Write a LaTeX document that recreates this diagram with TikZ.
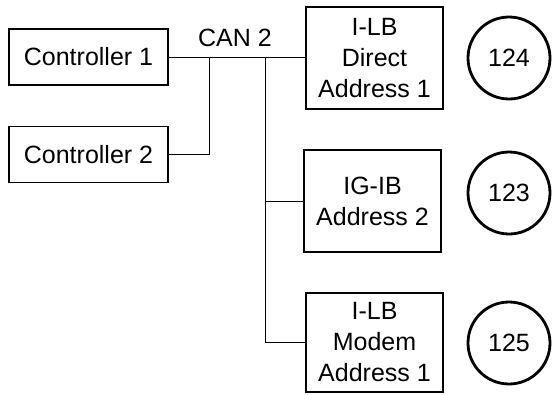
\documentclass[tikz,border=0pt]{standalone}
\usepackage{fontspec}
\setmainfont{Liberation Sans}
\usepackage{tikz}
\usetikzlibrary{positioning,calc}

\begin{document}
\begin{tikzpicture}[
  x=1pt, y=-1pt,
  box/.style={draw, line width=1.2pt, align=center, inner sep=2pt,
    font=\fontsize{25}{31}\selectfont},
  ctrl/.style={box, minimum width=159pt, minimum height=56pt},
  dev/.style={box, minimum width=137pt, minimum height=102pt},
  addr/.style={draw, circle, line width=2.8pt, minimum size=82pt, inner sep=0pt,
    font=\fontsize{25}{28}\selectfont},
  bus/.style={line width=1pt},
  lbl/.style={font=\fontsize{25}{28}\selectfont, inner sep=0pt}
]
\useasboundingbox (0,0) rectangle (552,394);
\node[ctrl] (ctrlA) at (88.5,57) {Controller 1};
\node[ctrl] (ctrlB) at (88.5,154.5) {Controller 2};
\node[lbl] (canlbl) at (235,38) {CAN 2};
\node[dev] (ilbA) at (374.5,58) {I-LB\\Direct\\Address 1};
\node[dev] (igib) at (372.5,201) {IG-IB\\Address 2};
\node[dev, minimum height=99pt] (ilbB) at (374.5,342.5) {I-LB\\Modem\\Address 1};
\node[addr] (adrA) at (509,58) {124};
\node[addr] (adrB) at (509,193) {123};
\node[addr] (adrC) at (509,343) {125};
\coordinate (tapB) at (209,58);
\coordinate (tapC) at (265,58);
\draw[bus] (ctrlA.east) -- (ilbA.west |- ctrlA.east);
\draw[bus] (tapB) |- (ctrlB.east);
\draw[bus] (tapC) |- (ilbB.west);
\draw[bus] (tapC |- igib.west) -- (igib.west);
\end{tikzpicture}
\end{document}
